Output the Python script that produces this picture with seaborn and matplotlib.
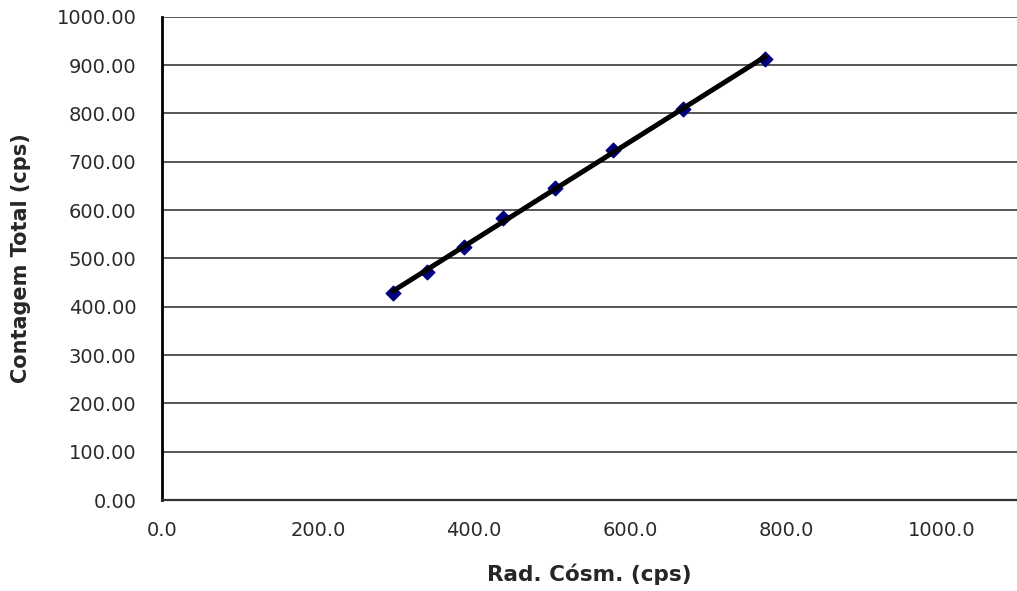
import matplotlib
matplotlib.use("Agg")
import matplotlib.pyplot as plt
import seaborn as sns
import numpy as np

# leituras: radiação cósmica x contagem total
rad_cosm = [296, 340, 387, 437, 504, 578, 668, 773]
contagem = [429, 472, 524, 583, 645, 724, 810, 912]

x_ticks = [0, 200, 400, 600, 800, 1000]
y_ticks = [0, 100, 200, 300, 400, 500, 600, 700, 800, 900, 1000]

sns.set_style("white")
plt.rcParams['font.family'] = ['DejaVu Sans']

fig = plt.figure(figsize=(10.17, 5.91), dpi=100)
ax = fig.add_axes([162 / 1017, 1 - 500 / 591, (1017 - 162) / 1017, (500 - 16.7) / 591])

sns.regplot(x=np.array(rad_cosm), y=np.array(contagem), ax=ax, ci=None,
            marker='D',
            scatter_kws=dict(s=55, color='#000080', edgecolors='#000080', alpha=1, zorder=3),
            line_kws=dict(color='black', lw=3.6, zorder=4))

ax.set_xlim(0, 1096)
ax.set_ylim(0, 1000)
ax.set_xticks(x_ticks)
ax.set_yticks(y_ticks)
ax.set_xticklabels([f'{v:.1f}' for v in x_ticks])
ax.set_yticklabels([f'{v:.2f}' for v in y_ticks])

ax.yaxis.grid(True, color='#3a3a3a', lw=1.2)
ax.xaxis.grid(False)
ax.set_axisbelow(True)

for s in ['top', 'right']:
    ax.spines[s].set_visible(False)
ax.spines['left'].set_color('black')
ax.spines['left'].set_linewidth(2)
ax.spines['bottom'].set_color('#333333')
ax.spines['bottom'].set_linewidth(1.6)

ax.tick_params(axis='y', direction='inout', length=9, width=1.2, color='black',
               labelsize=14, pad=14, labelcolor='#2a2a2a')
ax.tick_params(axis='x', direction='out', length=6, width=1.5, color='#333333',
               labelsize=14, pad=9, labelcolor='#2a2a2a')

ax.set_xlabel('Rad. Cósm. (cps)', fontsize=15.5, fontweight='bold', labelpad=17)
ax.set_ylabel('Contagem Total (cps)', fontsize=15, fontweight='bold', labelpad=18)

fig.savefig('out.png', dpi=100)
